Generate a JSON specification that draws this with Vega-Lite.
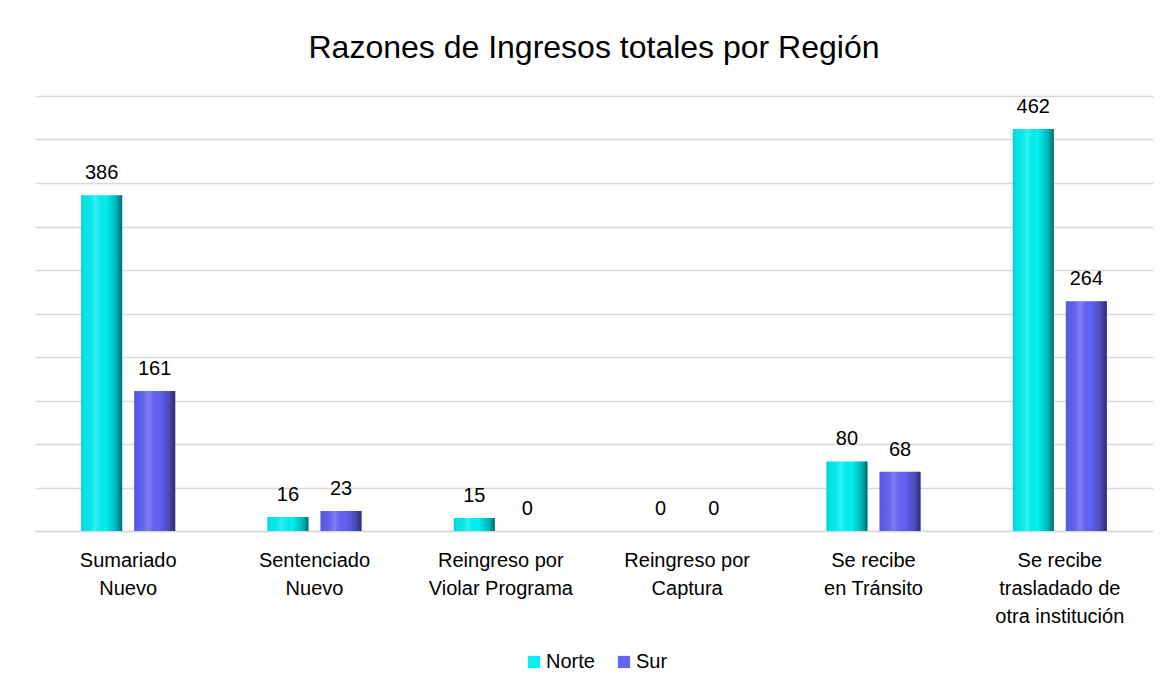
{
  "$schema": "https://vega.github.io/schema/vega-lite/v6.json",
  "width": 1118,
  "height": 435,
  "autosize": {"type": "none"},
  "padding": {"left": 35, "top": 96, "right": 22, "bottom": 168},
  "background": "white",
  "title": {
    "text": "Razones de Ingresos totales por Región",
    "font": "Liberation Sans",
    "fontSize": 32,
    "fontWeight": "normal",
    "color": "#000000",
    "anchor": "middle",
    "offset": 31
  },
  "config": {
    "font": "Liberation Sans",
    "view": {"stroke": null}
  },
  "data": {
    "values": [
      {"razon": "Sumariado Nuevo", "region": "Norte", "valor": 386},
      {"razon": "Sumariado Nuevo", "region": "Sur", "valor": 161},
      {"razon": "Sentenciado Nuevo", "region": "Norte", "valor": 16},
      {"razon": "Sentenciado Nuevo", "region": "Sur", "valor": 23},
      {"razon": "Reingreso por Violar Programa", "region": "Norte", "valor": 15},
      {"razon": "Reingreso por Violar Programa", "region": "Sur", "valor": 0},
      {"razon": "Reingreso por Captura", "region": "Norte", "valor": 0},
      {"razon": "Reingreso por Captura", "region": "Sur", "valor": 0},
      {"razon": "Se recibe en Tránsito", "region": "Norte", "valor": 80},
      {"razon": "Se recibe en Tránsito", "region": "Sur", "valor": 68},
      {"razon": "Se recibe trasladado de otra institución", "region": "Norte", "valor": 462},
      {"razon": "Se recibe trasladado de otra institución", "region": "Sur", "valor": 264}
    ]
  },
  "encoding": {
    "x": {
      "field": "razon",
      "type": "nominal",
      "sort": null,
      "scale": {"paddingInner": 0.495, "paddingOuter": 0.2475},
      "axis": {
        "title": null,
        "labelAngle": 0,
        "labelFontSize": 20,
        "labelColor": "#000000",
        "labelPadding": 29,
        "labelLineHeight": 28,
        "labelBaseline": "middle",
        "ticks": false,
        "domain": true,
        "domainColor": "#d9d9d9",
        "domainWidth": 1.5,
        "labelExpr": "({'Sumariado Nuevo': ['Sumariado', 'Nuevo'], 'Sentenciado Nuevo': ['Sentenciado', 'Nuevo'], 'Reingreso por Violar Programa': ['Reingreso por', 'Violar Programa'], 'Reingreso por Captura': ['Reingreso por', 'Captura'], 'Se recibe en Tránsito': ['Se recibe', 'en Tránsito'], 'Se recibe trasladado de otra institución': ['Se recibe', 'trasladado de', 'otra institución']})[datum.value]"
      }
    },
    "xOffset": {
      "field": "region",
      "type": "nominal",
      "scale": {"paddingInner": 0.226, "paddingOuter": 0}
    },
    "y": {
      "field": "valor",
      "type": "quantitative",
      "scale": {"domain": [0, 500], "nice": false},
      "axis": {
        "title": null,
        "labels": false,
        "ticks": false,
        "domain": false,
        "values": [0, 50, 100, 150, 200, 250, 300, 350, 400, 450, 500],
        "grid": true,
        "gridColor": "#d9d9d9",
        "gridWidth": 1.5
      }
    }
  },
  "layer": [
    {
      "mark": {"type": "bar"},
      "encoding": {
        "color": {
          "field": "region",
          "type": "nominal",
          "scale": {"domain": ["Norte", "Sur"], "range": ["#00f2f2", "#6363f7"]},
          "legend": {
            "title": null,
            "orient": "none",
            "legendX": 489,
            "legendY": 556,
            "direction": "horizontal",
            "symbolType": "square",
            "symbolSize": 150,
            "labelFontSize": 20,
            "labelColor": "#000000",
            "labelOffset": 2,
            "columnPadding": 19
          }
        }
      }
    },
    {
      "mark": {
        "type": "bar",
        "color": {
          "gradient": "linear",
          "x1": 0, "x2": 1, "y1": 0, "y2": 0,
          "stops": [
            {"offset": 0, "color": "rgba(0,0,0,0.12)"},
            {"offset": 0.1, "color": "rgba(0,0,0,0.05)"},
            {"offset": 0.35, "color": "rgba(255,255,255,0.18)"},
            {"offset": 0.6, "color": "rgba(0,0,0,0.0)"},
            {"offset": 0.85, "color": "rgba(0,0,0,0.25)"},
            {"offset": 1, "color": "rgba(0,0,0,0.55)"}
          ]
        }
      }
    },
    {
      "mark": {"type": "text", "baseline": "alphabetic", "dy": -16, "fontSize": 20, "color": "#000000"},
      "encoding": {
        "text": {"field": "valor", "type": "quantitative"}
      }
    }
  ]
}
